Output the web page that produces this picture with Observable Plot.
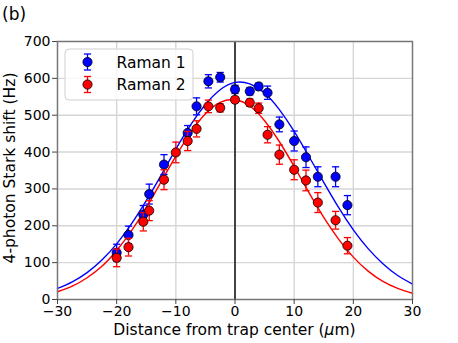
<!DOCTYPE html>
<html>
<head>
<meta charset="utf-8">
<script src="https://cdn.jsdelivr.net/npm/d3@7"></script>
<script src="https://cdn.jsdelivr.net/npm/@observablehq/plot@0.6"></script>
<style>
  html, body { margin: 0; padding: 0; background: #fff; }
  #chart svg { display: block; }
</style>
</head>
<body>
<div id="chart"></div>
<script>
// ---- Data ----
const seriesNames = ["Raman 1", "Raman 2"];
const seriesColors = ["#0000ff", "#ff0000"];

// Raman 1 measurements
const raman1X   = [-20, -18, -15.5, -14.5, -12, -8, -6.5, -4.5, -2.5, 0, 2.5, 4, 5.5, 7.5, 10, 12, 14, 17, 19];
const raman1Y   = [127, 175, 230, 286, 366, 452, 524, 592, 603, 570, 565, 578, 561, 475, 430, 386, 333, 333, 256];
const raman1Err = [23, 24, 25, 27, 27, 20, 23, 18, 13, 11, 10, 9, 18, 20, 27, 28, 27, 27, 26];

// Raman 2 measurements
const raman2X   = [-20, -18, -15.5, -14.5, -12, -10, -8, -6.5, -4.5, -2.5, 0, 2.5, 4, 5.5, 7.5, 10, 12, 14, 17, 19];
const raman2Y   = [113, 142, 211, 241, 325, 399, 430, 463, 524, 520, 542, 534, 519, 447, 393, 352, 323, 263, 215, 146];
const raman2Err = [24, 24, 25, 27, 27, 28, 26, 22, 17, 11, 8, 10, 14, 22, 26, 27, 28, 27, 24, 22];

// Fitted curves
const fitX  = [-30, -27.5, -25, -22.5, -20, -17.5, -15, -12.5, -10, -7.5, -5, -2.5, 0, 2.5, 5, 7.5, 10, 12.5, 15, 17.5, 20, 22.5, 25, 27.5, 30];
const fit1Y = [30, 48, 73, 107, 151, 205, 268, 337, 408, 474, 529, 569, 589, 585, 560, 515, 456, 388, 318, 250, 189, 138, 97, 65, 42];
const fit2Y = [21, 36, 59, 90, 133, 186, 249, 319, 389, 453, 504, 535, 542, 525, 485, 428, 361, 290, 223, 164, 115, 77, 49, 30, 17];

// Axis ticks
const xTicks = [-30, -20, -10, 0, 10, 20, 30];
const yTicks = [0, 100, 200, 300, 400, 500, 600, 700];

// ---- Build tables ----
const pts1 = raman1X.map((x, i) => ({x, y: raman1Y[i], e: raman1Err[i]}));
const pts2 = raman2X.map((x, i) => ({x, y: raman2Y[i], e: raman2Err[i]}));
const fit1 = fitX.map((x, i) => ({x, y: fit1Y[i]}));
const fit2 = fitX.map((x, i) => ({x, y: fit2Y[i]}));

const capSymbol = {
  draw(context, size) {
    const r = Math.sqrt(size / Math.PI);
    context.moveTo(-r, 0);
    context.lineTo(r, 0);
  }
};

function seriesMarks(pts, color) {
  return [
    Plot.ruleX(pts, {x: "x", y1: d => d.y - d.e, y2: d => d.y + d.e, stroke: color, strokeWidth: 1.3}),
    Plot.dot(pts, {x: "x", y: d => d.y - d.e, symbol: capSymbol, r: 3.6, stroke: color, strokeWidth: 1.3, fill: "none"}),
    Plot.dot(pts, {x: "x", y: d => d.y + d.e, symbol: capSymbol, r: 3.6, stroke: color, strokeWidth: 1.3, fill: "none"}),
    Plot.dot(pts, {x: "x", y: "y", r: 4.6, fill: color, stroke: "#000", strokeWidth: 0.8})
  ];
}

const W = 458, H = 343;
const chart = Plot.plot({
  width: W,
  height: H,
  marginLeft: 57,
  marginRight: 46,
  marginTop: 41,
  marginBottom: 44,
  style: {fontFamily: "DejaVu Sans", fontSize: "14px", background: "#fff", color: "#000", overflow: "visible"},
  x: {domain: [-30, 30]},
  y: {domain: [0, 700]},
  marks: [
    Plot.gridX(xTicks, {stroke: "#d6d6d6", strokeOpacity: 1, strokeWidth: 1.4}),
    Plot.gridY(yTicks, {stroke: "#d6d6d6", strokeOpacity: 1, strokeWidth: 1.4}),
    Plot.ruleX([0], {stroke: "#000", strokeWidth: 1.4}),
    Plot.line(fit1, {x: "x", y: "y", stroke: seriesColors[0], strokeWidth: 1.4, curve: "natural"}),
    Plot.line(fit2, {x: "x", y: "y", stroke: seriesColors[1], strokeWidth: 1.4, curve: "natural"}),
    ...seriesMarks(pts1, seriesColors[0]),
    ...seriesMarks(pts2, seriesColors[1]),
    Plot.frame({stroke: "#777", strokeWidth: 1.4}),
    Plot.axisX(xTicks, {tickSize: 5, tickPadding: 2, fontSize: 14, label: null, stroke: "#444"}),
    Plot.axisY(yTicks, {tickSize: 5, tickPadding: 2, fontSize: 14, label: null, stroke: "#444"})
  ]
});

document.getElementById("chart").appendChild(chart);

// ---- Extra text & legend ----
const svg = d3.select(chart);

// tick labels: force size & family (they are the only texts so far)
svg.selectAll("g").filter(function() { return this.querySelector(":scope > text"); })
  .attr("font-size", 14).attr("font-family", "DejaVu Sans");
svg.selectAll("text")
  .attr("font-size", 14).attr("font-family", "DejaVu Sans")
  .style("font-size", "14px").style("font-family", "DejaVu Sans");

const xScale = chart.scale("x"), yScale = chart.scale("y");
const frameLeft = xScale.range[0], frameRight = xScale.range[1];
const frameTop = yScale.range[1], frameBottom = yScale.range[0];

svg.append("text")
  .attr("x", 2).attr("y", 20)
  .attr("text-anchor", "start")
  .attr("font-size", 17).attr("font-family", "DejaVu Sans").attr("fill", "#000")
  .text("(b)");

const xl = svg.append("text")
  .attr("x", (frameLeft + frameRight) / 2).attr("y", 335)
  .attr("text-anchor", "middle")
  .attr("font-size", 15.5).attr("font-family", "DejaVu Sans").attr("fill", "#000");
xl.append("tspan").text("Distance from trap center (");
xl.append("tspan").attr("font-style", "italic").text("μ");
xl.append("tspan").text("m)");

svg.append("text")
  .attr("transform", `translate(15,${(frameTop + frameBottom) / 2 - 2}) rotate(-90)`)
  .attr("text-anchor", "middle")
  .attr("font-size", 15.5).attr("font-family", "DejaVu Sans").attr("fill", "#000")
  .text("4-photon Stark shift (Hz)");

// Legend
const lg = svg.append("g");
lg.append("rect")
  .attr("x", 65).attr("y", 49).attr("width", 128).attr("height", 51)
  .attr("rx", 4).attr("ry", 4)
  .attr("fill", "#fff").attr("fill-opacity", 0.8)
  .attr("stroke", "#d0d0d0").attr("stroke-width", 1);

seriesNames.forEach((name, i) => {
  const cy = 62 + i * 22.5;
  const cx = 87.5;
  const c = seriesColors[i];
  lg.append("line").attr("x1", cx).attr("x2", cx).attr("y1", cy - 8).attr("y2", cy + 8)
    .attr("stroke", c).attr("stroke-width", 1.3);
  [-8, 8].forEach(o => lg.append("line")
    .attr("x1", cx - 3.6).attr("x2", cx + 3.6).attr("y1", cy + o).attr("y2", cy + o)
    .attr("stroke", c).attr("stroke-width", 1.3));
  lg.append("circle").attr("cx", cx).attr("cy", cy).attr("r", 4.6)
    .attr("fill", c).attr("stroke", "#000").attr("stroke-width", 0.8);
  lg.append("text").attr("x", 116.5).attr("y", cy + 5.5)
    .attr("text-anchor", "start")
    .attr("font-size", 15.5).attr("font-family", "DejaVu Sans").attr("fill", "#000")
    .text(name);
});
</script>
</body>
</html>
